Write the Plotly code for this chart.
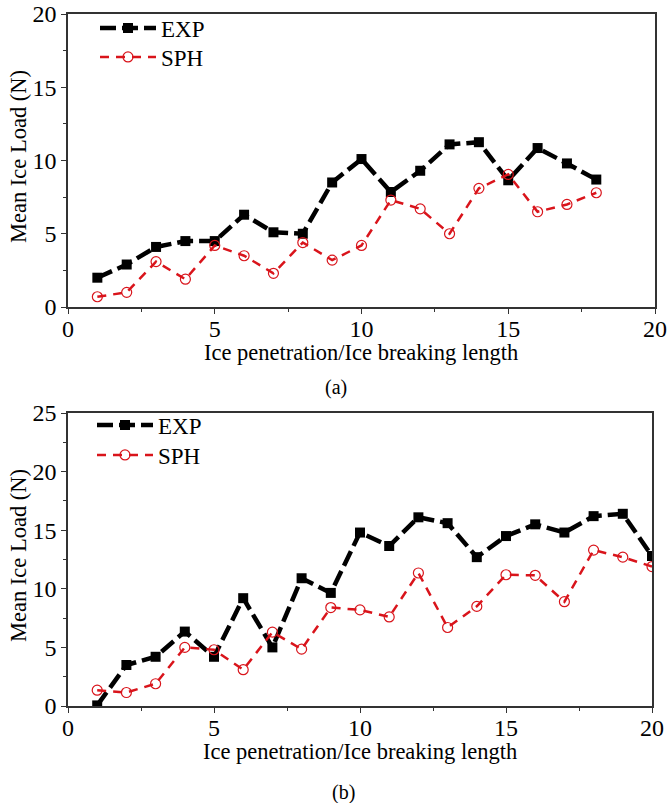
import plotly.graph_objects as go

# ---- data ----
x_a = list(range(1, 19))
exp_a = [2.0, 2.9, 4.1, 4.5, 4.5, 6.3, 5.1, 5.0, 8.5, 10.1, 7.85, 9.3, 11.1, 11.25, 8.65, 10.85, 9.8, 8.7]
sph_a = [0.7, 1.0, 3.1, 1.9, 4.2, 3.5, 2.3, 4.4, 3.2, 4.2, 7.3, 6.7, 5.0, 8.1, 9.05, 6.5, 7.0, 7.8]

x_b = list(range(1, 21))
exp_b = [0.05, 3.5, 4.2, 6.35, 4.2, 9.2, 5.0, 10.9, 9.65, 14.8, 13.65, 16.1, 15.6, 12.7, 14.5, 15.5, 14.8, 16.2, 16.4, 12.8]
sph_b = [1.35, 1.15, 1.9, 5.0, 4.8, 3.1, 6.3, 4.85, 8.4, 8.2, 7.6, 11.35, 6.7, 8.5, 11.2, 11.15, 8.9, 13.3, 12.7, 11.9]

x_ticks = [0, 5, 10, 15, 20]
y_ticks_a = [0, 5, 10, 15, 20]
y_ticks_b = [0, 5, 10, 15, 20, 25]
x_title = "Ice penetration/Ice breaking length"
y_title = "Mean Ice Load (N)"
captions = ["(a)", "(b)"]

FONT = "Liberation Serif, Times New Roman, serif"
RED = "#d9141b"

fig = go.Figure()

def add_pair(xs, e, s, xa, ya, leg_e, leg_s):
    fig.add_trace(go.Scatter(x=xs, y=e, name="EXP", mode="lines+markers", showlegend=True,
                             line=dict(color="black", width=4.5, dash="16px,6px"),
                             marker=dict(symbol="square", size=10, color="black"),
                             xaxis=xa, yaxis=ya, legend=leg_e))
    fig.add_trace(go.Scatter(x=xs, y=s, name="SPH", mode="lines+markers", showlegend=True,
                             line=dict(color=RED, width=2.5, dash="9px,7px"),
                             marker=dict(symbol="circle-open", size=10, color=RED, line=dict(width=1.2, color=RED)),
                             xaxis=xa, yaxis=ya, legend=leg_s))

add_pair(x_a, exp_a, sph_a, "x", "y", "legend", "legend2")
add_pair(x_b, exp_b, sph_b, "x2", "y2", "legend3", "legend4")

W, H = 668, 803
def px_x(p):
    return p / W
def px_y(p):
    return 1 - p / H

axis_common = dict(showline=True, linecolor="#333", linewidth=1.5, mirror=True,
                   ticks="outside", ticklen=5, tickwidth=1.3, tickcolor="#333",
                   showgrid=False, zeroline=False,
                   tickfont=dict(family=FONT, size=24, color="black"),
                   minor=dict(ticks="outside", ticklen=3, tickwidth=1.2, tickcolor="#333", dtick=2.5))

def leg(xp, yp):
    return dict(x=px_x(xp), y=px_y(yp), xanchor="left", yanchor="middle", bgcolor="rgba(0,0,0,0)",
                font=dict(family=FONT, size=23), tracegroupgap=0, itemwidth=56)

ann = []
for xc, yc in [(361, 352), (360, 751)]:
    ann.append(dict(text=x_title, x=px_x(xc), y=px_y(yc), xref="paper", yref="paper", showarrow=False,
                    font=dict(family=FONT, size=22.5), xanchor="center", yanchor="middle"))
for yc in [157, 556]:
    ann.append(dict(text=y_title, x=px_x(18), y=px_y(yc), xref="paper", yref="paper", showarrow=False,
                    textangle=-90, font=dict(family=FONT, size=22.5), xanchor="center", yanchor="middle"))
for cap, (xc, yc) in zip(captions, [(336, 388), (344, 792)]):
    ann.append(dict(text=cap, x=px_x(xc), y=px_y(yc), xref="paper", yref="paper", showarrow=False,
                    font=dict(family=FONT, size=20), xanchor="center", yanchor="middle"))

fig.update_layout(
    width=W, height=H,
    margin=dict(l=0, r=0, t=0, b=0, autoexpand=False),
    paper_bgcolor="white", plot_bgcolor="white",
    font=dict(family=FONT, color="black"),
    showlegend=True,
    xaxis=dict(domain=[px_x(68), px_x(655)], range=[0, 20], tickvals=x_ticks, anchor="y",
               ticklabelstandoff=-6, **axis_common),
    yaxis=dict(domain=[px_y(307), px_y(14)], range=[0, 20], tickvals=y_ticks_a, anchor="x", **axis_common),
    xaxis2=dict(domain=[px_x(68), px_x(652)], range=[0, 20], tickvals=x_ticks, anchor="y2",
                ticklabelstandoff=-6, **axis_common),
    yaxis2=dict(domain=[px_y(706), px_y(413)], range=[0, 25], tickvals=y_ticks_b, anchor="x2", **axis_common),
    legend=leg(95, 28), legend2=leg(95, 57),
    legend3=leg(92, 425), legend4=leg(92, 455),
    annotations=ann,
)

fig.write_html("out.html")
